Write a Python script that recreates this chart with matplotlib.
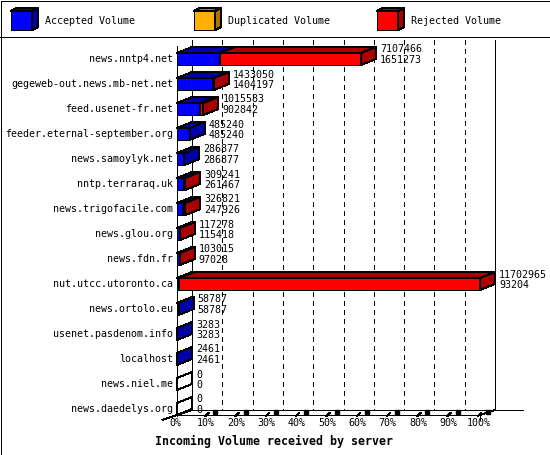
import matplotlib
matplotlib.use('Agg')
import matplotlib.pyplot as plt

hosts = ['news.nntp4.net', 'gegeweb-out.news.mb-net.net', 'feed.usenet-fr.net',
         'feeder.eternal-september.org', 'news.samoylyk.net', 'nntp.terraraq.uk',
         'news.trigofacile.com', 'news.glou.org', 'news.fdn.fr', 'nut.utcc.utoronto.ca',
         'news.ortolo.eu', 'usenet.pasdenom.info', 'localhost', 'news.niel.me',
         'news.daedelys.org']
incoming = [7107466, 1433050, 1015583, 485240, 286877, 309241, 326821, 117278,
            103015, 11702965, 58787, 3283, 2461, 0, 0]
accepted = [1651273, 1404197, 902842, 485240, 286877, 261467, 247926, 115418,
            97028, 93204, 58787, 3283, 2461, 0, 0]
legend_labels = ['Accepted Volume', 'Duplicated Volume', 'Rejected Volume']
xtick_labels = ['0%', '10%', '20%', '30%', '40%', '50%', '60%', '70%', '80%', '90%', '100%']
title = 'Incoming Volume received by server'

# figure is 550x455 px; data axes covers all of it
W, H = 550, 455
X0, PX = 177, 3.03      # pixel of 0%, pixels per percent
Y0, ROW = 59, 25        # pixel of first row, pixels per row
LW = 0.72
FS = 7.2

BLUE, BLUE_D = '#0000ff', '#0000aa'
ORANGE, ORANGE_D = '#ffb000', '#aa7600'
RED, RED_D = '#ff0000', '#aa0000'


def px(x):
    return (x - X0) / PX


def py(y):
    return (y - Y0) / ROW


DX = 15 / PX
DY = 6 / ROW
BAR = 12 / ROW


def box(ax, left, right, row, front, dark):
    top = row - BAR / 2
    bot = row + BAR / 2
    ax.barh(row, right - left, left=left, height=BAR, color=front,
            edgecolor='k', linewidth=LW, zorder=3, antialiased=False)
    ax.fill([left, left + DX, right + DX, right], [top, top - DY, top - DY, top],
            facecolor=dark, edgecolor='k', linewidth=LW, zorder=3, antialiased=False)
    ax.fill([right, right + DX, right + DX, right], [top, top - DY, bot - DY, bot],
            facecolor=dark, edgecolor='k', linewidth=LW, zorder=3, antialiased=False)


def line(ax, xs, ys, **kw):
    ax.plot([px(x) for x in xs], [py(y) for y in ys], color='k', linewidth=LW,
            antialiased=False, solid_capstyle='butt', **kw)


def main():
    plt.rcParams['font.family'] = 'DejaVu Sans Mono'
    fig = plt.figure(figsize=(W / 100, H / 100), dpi=100)
    ax = fig.add_axes([0, 0, 1, 1])
    ax.set_xlim(px(0), px(W))
    ax.set_ylim(py(H), py(0))
    ax.axis('off')

    # outer border and legend separator
    line(ax, [0.5, 549.5, 549.5, 0.5, 0.5], [0.5, 0.5, 454.5, 454.5, 0.5])
    line(ax, [0, 550], [37, 37])

    # legend
    for lx, tx, label, front, dark in zip([11, 194, 377], [45, 228, 411], legend_labels,
                                          [BLUE, ORANGE, RED], [BLUE_D, ORANGE_D, RED_D]):
        fx = [px(lx), px(lx + 21), px(lx + 21), px(lx)]
        ax.fill(fx, [py(11), py(11), py(30), py(30)], facecolor=front, edgecolor='k',
                linewidth=LW, antialiased=False)
        ax.fill([px(lx), px(lx + 6), px(lx + 27), px(lx + 21)],
                [py(11), py(8), py(8), py(11)], facecolor=dark, edgecolor='k',
                linewidth=LW, antialiased=False)
        ax.fill([px(lx + 21), px(lx + 27), px(lx + 27), px(lx + 21)],
                [py(11), py(8), py(27), py(30)], facecolor=dark, edgecolor='k',
                linewidth=LW, antialiased=False)
        ax.text(px(tx), py(21), label, fontsize=FS, va='center', ha='left')

    # 3d frame
    line(ax, [192, 192], [40, 410])
    line(ax, [495, 495], [40, 410])
    line(ax, [177, 177], [46, 416])
    line(ax, [192, 523], [410, 410])
    line(ax, [177, 480], [415, 415])
    line(ax, [162, 192], [420, 410])
    line(ax, [480, 495], [415, 410])
    line(ax, [480, 480], [415, 420])

    # dashed grid on the back wall, floor ticks, tick labels
    for i, lab in enumerate(xtick_labels):
        p = i * 10
        if 0 < i < 10:
            ax.plot([p + DX, p + DX], [py(40), py(410)], color='k', linewidth=LW,
                    linestyle=(0, (5, 5)), antialiased=False, zorder=1)
        if i > 0:
            ax.plot([p - 2 / PX, p + 1 / PX], [py(416), py(413)], color='k',
                    linewidth=LW, antialiased=False)
            ax.plot([p + 8 / PX], [py(411.5)], marker='s', markersize=2.2, color='k',
                    linestyle='none')
        ax.text(p - 1.5 / PX, py(423), lab, fontsize=FS, ha='center', va='center')

    vmax = max(incoming)
    for row, (host, inc, acc) in enumerate(zip(hosts, incoming, accepted)):
        inc_p = inc / vmax * 100
        acc_p = acc / vmax * 100
        if inc == 0:
            box(ax, 0, 0, row, 'white', 'white')
        else:
            if acc > 0:
                box(ax, 0, acc_p, row, BLUE, BLUE_D)
            if inc > acc:
                box(ax, acc_p, inc_p, row, RED, RED_D)
        ax.text(-4 / PX, row, host, fontsize=FS, ha='right', va='center')
        vx = inc_p + 19 / PX
        ax.text(vx, row - 9.5 / ROW, str(inc), fontsize=FS, ha='left', va='center', zorder=5)
        ax.text(vx, row + 1 / ROW, str(acc), fontsize=FS, ha='left', va='center', zorder=5)

    ax.text(px(155), py(441), title, fontsize=8.4, fontweight='bold', ha='left',
            va='center')

    fig.savefig('out.png', dpi=100)


if __name__ == '__main__':
    main()
